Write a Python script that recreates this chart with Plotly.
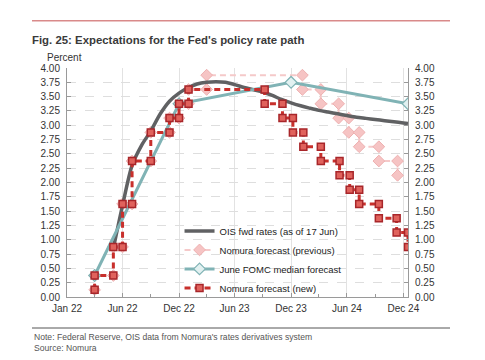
import pandas as pd
import plotly.graph_objects as go

# ---------------- data ----------------
tick_dates = ["2022-01-01", "2022-07-01", "2023-01-01", "2023-07-01",
              "2024-01-01", "2024-07-01", "2025-01-01"]
tick_labels = ["Jan 22", "Jun 22", "Dec 22", "Jun 23", "Dec 23", "Jun 24", "Dec 24"]

# OIS forward rates (as of 17 Jun), monthly
ois_dates = [d.strftime("%Y-%m-%d") for d in
             pd.date_range("2022-06-01", "2025-01-01", freq="MS")] + ["2025-01-16"]
ois_rates = [0.85, 1.60, 2.30, 2.65, 2.90, 3.20, 3.42, 3.56, 3.66, 3.72, 3.75,
             3.76, 3.75, 3.71, 3.66, 3.62, 3.58, 3.52, 3.45, 3.39, 3.34, 3.30,
             3.26, 3.23, 3.20, 3.17, 3.14, 3.12, 3.10, 3.08, 3.06, 3.04, 3.03]

# June FOMC median forecast
fomc_dates = ["2022-04-01", "2023-01-01", "2024-01-01", "2025-01-16"]
fomc_rates = [0.375, 3.375, 3.75, 3.375]

# Nomura forecast (new): starting level and step changes
start_date = "2022-04-01"
start_rate = 0.125
new_step_dates = ["2022-04-01", "2022-06-01", "2022-07-01", "2022-08-01",
                  "2022-10-01", "2022-12-01", "2023-01-01", "2023-02-01",
                  "2023-10-07", "2023-12-04", "2024-01-07", "2024-02-10",
                  "2024-04-07", "2024-06-07", "2024-07-10", "2024-08-10",
                  "2024-10-13", "2024-12-10", "2025-01-16"]
new_step_rates = [0.375, 0.875, 1.625, 2.375, 2.875, 3.125, 3.375, 3.625,
                  3.375, 3.125, 2.875, 2.625, 2.375, 2.125, 1.875, 1.625,
                  1.375, 1.125, 0.875]

# Nomura forecast (previous): step changes
prev_step_dates = ["2022-04-01", "2022-06-01", "2022-07-01", "2022-08-01",
                   "2022-10-01", "2022-12-01", "2023-01-01", "2023-02-01",
                   "2023-04-01", "2024-02-07", "2024-04-07", "2024-06-04",
                   "2024-07-07", "2024-08-10", "2024-10-13", "2024-12-13"]
prev_step_rates = [0.375, 0.875, 1.625, 2.375, 2.875, 3.125, 3.375, 3.625,
                   3.875, 3.625, 3.375, 3.125, 2.875, 2.625, 2.375, 2.125]


def step_points(d0, v0, dates, vals):
    xs, ys, prev = [d0], [v0], v0
    for d, v in zip(dates, vals):
        if d != xs[-1]:
            xs.append(d)
            ys.append(prev)
        xs.append(d)
        ys.append(v)
        prev = v
    return xs, ys


new_x, new_y = step_points(start_date, start_rate, new_step_dates, new_step_rates)
prev_x, prev_y = step_points(start_date, start_rate, prev_step_dates, prev_step_rates)

FONT = "Liberation Sans, Arial, sans-serif"

# page has an 8px body margin: the figure is drawn 8px smaller and offset
W, H = 477, 352
L, T = 59, 60            # plot-area left / top in figure pixels
PW, PH = 341, 229        # plot-area width / height

fig = go.Figure()
fig.add_trace(go.Scatter(
    x=prev_x, y=prev_y, mode="lines+markers", name="Nomura forecast (previous)",
    line=dict(color="#f5c9c9", width=2, dash="6px,4px"),
    marker=dict(symbol="diamond", size=9, color="#f6c4c4",
                line=dict(color="#eeb0b0", width=1)),
    legendrank=2))
fig.add_trace(go.Scatter(
    x=ois_dates, y=ois_rates, mode="lines", name="OIS fwd rates (as of 17 Jun)",
    line=dict(color="#606163", width=3.5, shape="spline", smoothing=0.8),
    legendrank=1))
fig.add_trace(go.Scatter(
    x=fomc_dates, y=fomc_rates, mode="lines+markers", name="June FOMC median forecast",
    line=dict(color="#80b3b5", width=3),
    marker=dict(symbol="diamond", size=9, color="#e2f1f1",
                line=dict(color="#80b3b5", width=1.2)),
    legendrank=3))
fig.add_trace(go.Scatter(
    x=new_x, y=new_y, mode="lines+markers", name="Nomura forecast (new)",
    yaxis="y2",
    line=dict(color="#c8302c", width=3, dash="6px,4px"),
    marker=dict(symbol="square", size=7, color="#e0625c",
                line=dict(color="#a8262a", width=1.5)),
    legendrank=4))

yax = dict(range=[0, 4], dtick=0.25, tickformat=".2f", ticks="inside", ticklen=4,
           tickcolor="#999", showline=True, linecolor="#9a9a9a", linewidth=1,
           zeroline=False, tickfont=dict(family=FONT, size=10, color="#333"),
           ticklabelstandoff=4, fixedrange=True)

fig.update_layout(
    width=W, height=H,
    margin=dict(l=L, r=W - L - PW, t=T, b=H - T - PH, autoexpand=False),
    paper_bgcolor="white", plot_bgcolor="white",
    font=dict(family=FONT, color="#333"),
    title=dict(text="<b>Fig. 25: Expectations for the Fed's policy rate path</b>",
               x=24 / W, xanchor="left", xref="container",
               y=1 - 32 / H, yanchor="middle", yref="container",
               font=dict(family=FONT, size=11.4, color="#3a3a3a")),
    xaxis=dict(type="date", range=["2022-01-01", "2025-01-16"],
               tickmode="array", tickvals=tick_dates, ticktext=tick_labels,
               ticks="inside", ticklen=4, tickcolor="#999",
               showline=True, linecolor="#9a9a9a", linewidth=1,
               showgrid=True, gridcolor="#e2e2e2", gridwidth=1,
               minor=dict(ticks="inside", ticklen=3, tickcolor="#999",
                          dtick="M3", tick0="2022-01-01", showgrid=False),
               ticklabelstandoff=2,
               tickfont=dict(family=FONT, size=10, color="#333")),
    yaxis=dict(**yax, side="left", showgrid=True, gridcolor="#dedede",
               griddash="dash"),
    yaxis2=dict(**yax, side="right", overlaying="y", showgrid=False),
    showlegend=True,
    legend=dict(x=0.33, y=0.352, xanchor="left", yanchor="top",
                bgcolor="rgba(255,255,255,0)", borderwidth=0,
                font=dict(family=FONT, size=9.5, color="#222"),
                tracegroupgap=0),
)

# paper coordinates from reference-pixel positions
def px(xr):
    return (xr - 67) / PW


def py(yr):
    return (297 - yr) / PH


fig.add_shape(type="line", xref="paper", yref="paper",
              x0=px(32), x1=px(450), y0=py(20.7), y1=py(20.7),
              line=dict(color="#d98a8a", width=1.5))
fig.add_shape(type="line", xref="paper", yref="paper",
              x0=px(32), x1=px(450), y0=py(328), y1=py(328),
              line=dict(color="#555", width=1))

fig.add_annotation(text="Percent", xref="paper", yref="paper",
                   x=px(45), y=py(57), xanchor="left",
                   yanchor="middle", showarrow=False,
                   font=dict(family=FONT, size=10, color="#333"))
fig.add_annotation(text="Note: Federal Reserve, OIS data from Nomura's rates derivatives system",
                   xref="paper", yref="paper",
                   x=px(32), y=py(337), xanchor="left",
                   yanchor="middle", showarrow=False,
                   font=dict(family=FONT, size=8.6, color="#555"))
fig.add_annotation(text="Source: Nomura", xref="paper", yref="paper",
                   x=px(32), y=py(348), xanchor="left",
                   yanchor="middle", showarrow=False,
                   font=dict(family=FONT, size=8.6, color="#555"))

fig.write_html("out.html")
